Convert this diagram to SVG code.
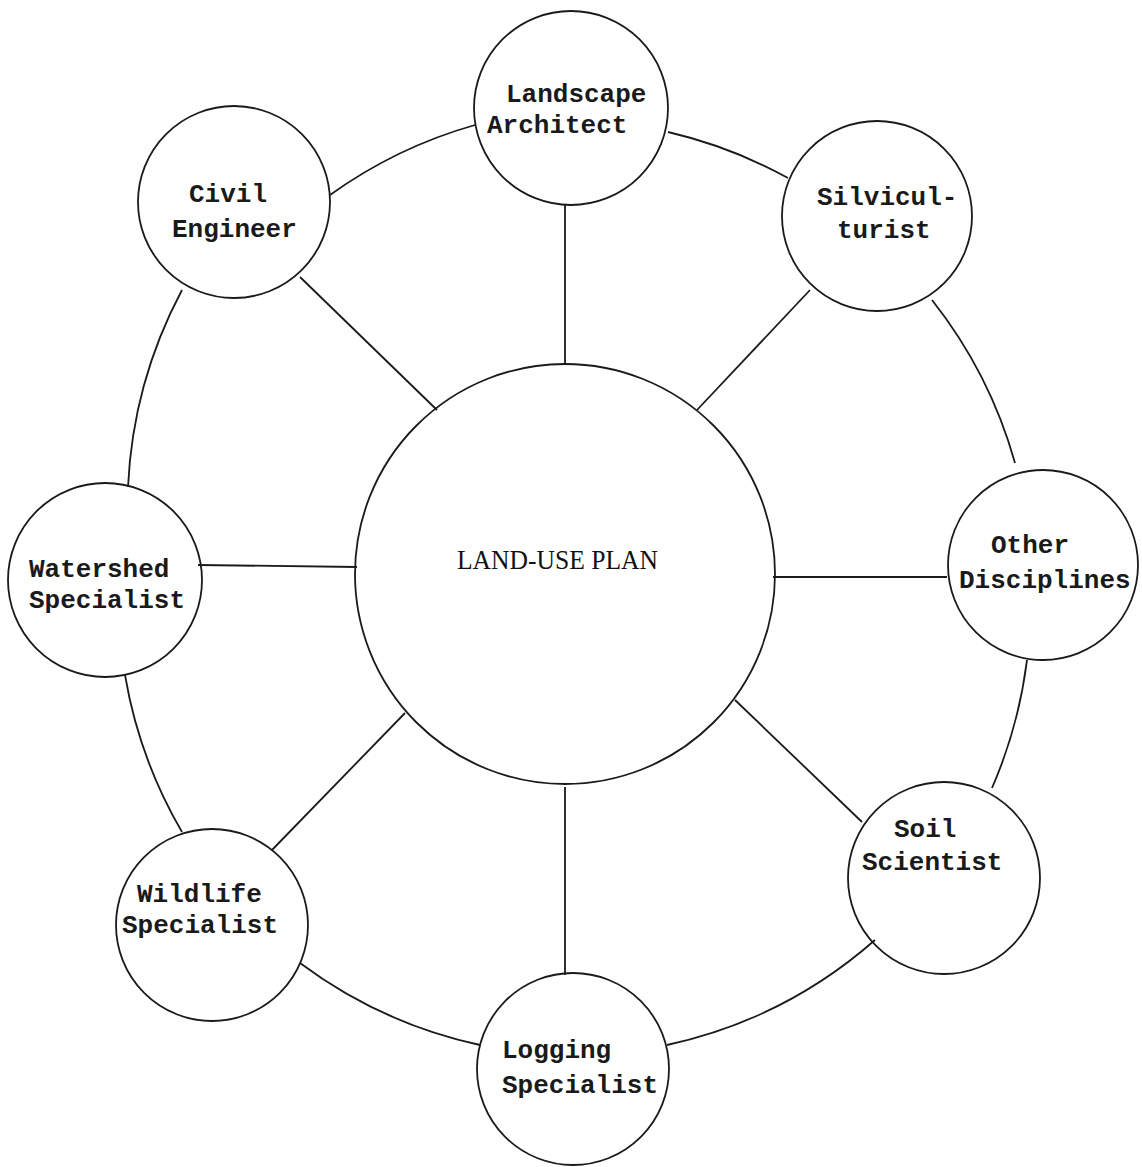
<svg xmlns="http://www.w3.org/2000/svg" width="1142" height="1167" viewBox="0 0 1142 1167">
<style>
.bg{fill:#ffffff}
.node circle{fill:none;stroke:#1a1a1a;stroke-width:1.8}
.conn line,.conn path{fill:none;stroke:#1a1a1a;stroke-width:1.8}
.lbl{font-family:"Liberation Mono","DejaVu Sans Mono",monospace;font-size:26px;font-weight:bold;fill:#1a1a1a}
.ctr{font-family:"Liberation Serif","DejaVu Serif",serif;font-size:28px;fill:#111111}
</style>
<rect class="bg" x="0" y="0" width="1142" height="1167"/>
<g id="connectors" class="conn">
<line x1="565" y1="205" x2="565" y2="364"/>
<line x1="300" y1="277" x2="437" y2="410"/>
<line x1="810" y1="290" x2="697" y2="410"/>
<line x1="198" y1="565" x2="357" y2="567"/>
<line x1="773" y1="577" x2="947" y2="577"/>
<line x1="735" y1="700" x2="862" y2="822"/>
<line x1="405" y1="713" x2="272" y2="850"/>
<line x1="565" y1="787" x2="565" y2="975"/>
<path d="M668,132 A465,465 0 0 1 788,178"/>
<path d="M932,300 A465,465 0 0 1 1015,463"/>
<path d="M1027,660 A465,465 0 0 1 992,788"/>
<path d="M875,940 A465,465 0 0 1 667,1045"/>
<path d="M480,1045 A465,465 0 0 1 300,963"/>
<path d="M182,832 A465,465 0 0 1 125,675"/>
<path d="M128,487 A465,465 0 0 1 182,290"/>
<path d="M330,195 A465,465 0 0 1 475,125"/>
</g>
<g id="center" class="node">
<circle cx="565" cy="574" r="210"/>
<text class="ctr" x="457" y="569" textLength="201" lengthAdjust="spacingAndGlyphs">LAND-USE PLAN</text>
</g>
<g id="landscape" class="node">
<circle cx="571" cy="108" r="97"/>
<text class="lbl" x="506" y="102">Landscape</text>
<text class="lbl" x="487" y="133">Architect</text>
</g>
<g id="silviculturist" class="node">
<circle cx="877" cy="216" r="95"/>
<text class="lbl" x="817" y="205">Silvicul-</text>
<text class="lbl" x="837" y="238">turist</text>
</g>
<g id="other" class="node">
<circle cx="1043" cy="565" r="95"/>
<text class="lbl" x="991" y="553">Other</text>
<text class="lbl" x="959" y="588">Disciplines</text>
</g>
<g id="soil" class="node">
<circle cx="944" cy="878" r="96"/>
<text class="lbl" x="894" y="837">Soil</text>
<text class="lbl" x="862" y="870">Scientist</text>
</g>
<g id="logging" class="node">
<circle cx="573" cy="1069" r="96"/>
<text class="lbl" x="502" y="1058">Logging</text>
<text class="lbl" x="502" y="1093">Specialist</text>
</g>
<g id="wildlife" class="node">
<circle cx="212" cy="925" r="96"/>
<text class="lbl" x="137" y="902">Wildlife</text>
<text class="lbl" x="122" y="933">Specialist</text>
</g>
<g id="watershed" class="node">
<circle cx="105" cy="580" r="97"/>
<text class="lbl" x="29" y="577">Watershed</text>
<text class="lbl" x="29" y="608">Specialist</text>
</g>
<g id="civil" class="node">
<circle cx="234" cy="202" r="96"/>
<text class="lbl" x="189" y="202">Civil</text>
<text class="lbl" x="172" y="237">Engineer</text>
</g>
</svg>
